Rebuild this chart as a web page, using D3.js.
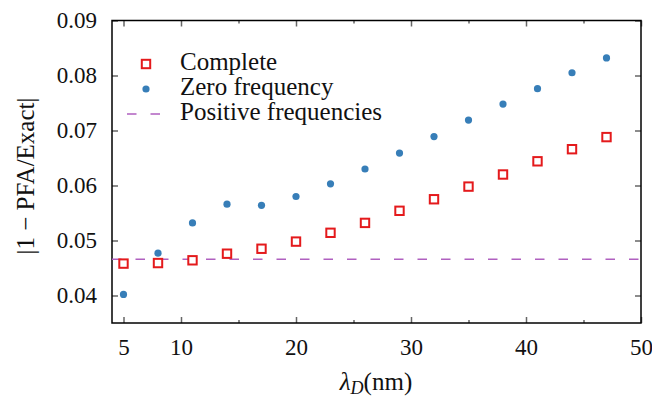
<!DOCTYPE html>
<html>
<head>
<meta charset="utf-8">
<script src="https://cdn.jsdelivr.net/npm/d3@7"></script>
</head>
<body style="margin:0">
<script>
// data
const lambdaD = [5, 8, 11, 14, 17, 20, 23, 26, 29, 32, 35, 38, 41, 44, 47];
const complete = [0.0458, 0.0459, 0.0464, 0.0476, 0.0485, 0.0498, 0.0514, 0.0532,
                  0.0554, 0.0575, 0.0598, 0.0620, 0.0644, 0.0666, 0.0688];
const zeroFreq = [0.0402, 0.0477, 0.0532, 0.0566, 0.0564, 0.0580, 0.0603, 0.0630,
                  0.0659, 0.0689, 0.0719, 0.0748, 0.0776, 0.0805, 0.0832];
const positiveFreq = 0.0466;
const xTicks = [5, 10, 20, 30, 40, 50];
const xMinorTicks = [15, 25, 35, 45];
const yTicks = [0.04, 0.05, 0.06, 0.07, 0.08, 0.09];
const seriesNames = ["Complete", "Zero frequency", "Positive frequencies"];

const W = 652, H = 401;
const margin = {top: 20.5, right: 11, bottom: 78, left: 112};
const width = W - margin.left - margin.right,
      height = H - margin.top - margin.bottom;

const colRed = "#e41a1c", colBlue = "#377eb8", colPurple = "#b060c0";
const serif = "'Liberation Serif', 'Tinos', 'DejaVu Serif', monospace";

const svg = d3.select("body").append("svg")
    .attr("width", W)
    .attr("height", H)
    .attr("font-family", serif);

svg.append("style").text(
  "text { font-family: 'Liberation Serif', 'Tinos', 'DejaVu Serif', monospace !important; }"
);

const g = svg.append("g")
    .attr("transform", "translate(" + margin.left + "," + margin.top + ")");

const x = d3.scaleLinear().domain([4, 50]).range([0, width]);
const y = d3.scaleLinear().domain([0.035, 0.09]).range([height, 0]);

function styleAxis(a) {
  a.attr("font-family", serif);
  a.select(".domain").remove();
  a.selectAll(".tick line").attr("stroke", "#666").attr("stroke-width", 1.5);
  a.selectAll(".tick text")
      .attr("font-family", serif)
      .style("font-size", "23px")
      .style("fill", "#111");
}

// axes, ticks pointing inwards
g.append("g")
    .attr("transform", "translate(0," + height + ")")
    .call(d3.axisBottom(x).tickValues(xTicks).tickSize(-6).tickPadding(16).tickFormat(d3.format("d")))
    .call(styleAxis);

g.append("g")
    .attr("transform", "translate(0," + height + ")")
    .call(d3.axisBottom(x).tickValues(xMinorTicks).tickSize(-3).tickFormat(""))
    .call(styleAxis);

g.append("g")
    .call(d3.axisTop(x).tickValues(xTicks).tickSize(-6).tickFormat(""))
    .call(styleAxis);

g.append("g")
    .call(d3.axisTop(x).tickValues(xMinorTicks).tickSize(-3).tickFormat(""))
    .call(styleAxis);

g.append("g")
    .call(d3.axisLeft(y).tickValues(yTicks).tickSize(-6).tickPadding(15).tickFormat(d3.format(".2f")))
    .call(styleAxis);

g.append("g")
    .attr("transform", "translate(" + width + ",0)")
    .call(d3.axisRight(y).tickValues(yTicks).tickSize(-6).tickFormat(""))
    .call(styleAxis);

// frame
g.append("rect")
    .attr("width", width)
    .attr("height", height)
    .attr("fill", "none")
    .attr("stroke", "#000")
    .attr("stroke-width", 1.5);

// positive frequencies: constant dashed line
g.append("line")
    .attr("x1", x(4)).attr("x2", x(50))
    .attr("y1", y(positiveFreq)).attr("y2", y(positiveFreq))
    .attr("stroke", colPurple)
    .attr("stroke-width", 1.5)
    .attr("stroke-dasharray", "9.5,14");

const pts = lambdaD.map((l, i) => ({l: l, c: complete[i], z: zeroFreq[i]}));

// complete: open squares
g.selectAll(".sq")
    .data(pts)
    .enter().append("rect")
    .attr("class", "sq")
    .attr("x", d => x(d.l) - 4.2)
    .attr("y", d => y(d.c) - 4.2)
    .attr("width", 8.4)
    .attr("height", 8.4)
    .attr("fill", "#fff")
    .attr("stroke", colRed)
    .attr("stroke-width", 2);

// zero frequency: dots
g.selectAll(".dot")
    .data(pts)
    .enter().append("circle")
    .attr("class", "dot")
    .attr("cx", d => x(d.l))
    .attr("cy", d => y(d.z))
    .attr("r", 3.6)
    .attr("fill", colBlue);

// legend
const leg = svg.append("g").attr("transform", "translate(146,0)");
leg.append("rect")
    .attr("x", -4.2).attr("y", 59.8).attr("width", 8.4).attr("height", 8.4)
    .attr("fill", "#fff").attr("stroke", colRed).attr("stroke-width", 2);
leg.append("circle")
    .attr("cx", 0).attr("cy", 89).attr("r", 3.6)
    .attr("fill", colBlue);
leg.append("line")
    .attr("x1", -19).attr("x2", 16).attr("y1", 114).attr("y2", 114)
    .attr("stroke", colPurple).attr("stroke-width", 1.5)
    .attr("stroke-dasharray", "9.5,14");
leg.selectAll(".lt")
    .data(seriesNames)
    .enter().append("text")
    .attr("class", "lt")
    .attr("x", 34)
    .attr("y", (d, i) => 70 + i * 25)
    .style("font-size", "25px")
    .style("fill", "#111")
    .text(d => d);

// axis titles
const xl = svg.append("text")
    .attr("x", 376).attr("y", 390)
    .attr("text-anchor", "middle")
    .style("font-size", "25px")
    .style("fill", "#111");
xl.append("tspan").style("font-style", "italic").text("λ");
xl.append("tspan").style("font-style", "italic").style("font-size", "18px").attr("dy", 4).text("D");
xl.append("tspan").attr("dy", -4).text("(nm)");

svg.append("text")
    .attr("transform", "translate(34,176) rotate(-90)")
    .attr("text-anchor", "middle")
    .style("font-size", "25px")
    .style("fill", "#111")
    .text("|1 − PFA/Exact|");
</script>
</body>
</html>
